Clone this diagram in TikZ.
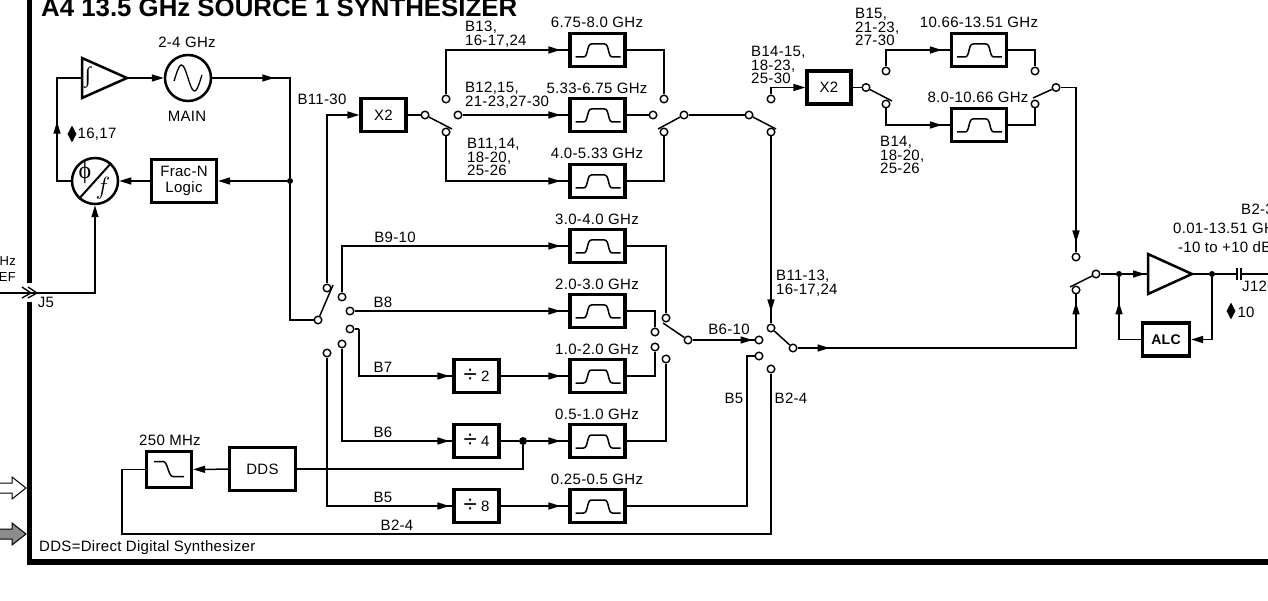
\documentclass[tikz,border=0pt]{standalone}
\usepackage{amsmath}
\usepackage{xcolor}
\usepackage{fontspec}
\setmainfont{Liberation Sans}[LetterSpace=2]
\newfontfamily\titlefont{Liberation Sans}
\newfontfamily\phifont{Liberation Serif}
\usepackage{tikz}
\usetikzlibrary{arrows.meta,calc,decorations.markings,shapes.geometric}

\begin{document}
\begin{tikzpicture}[x=1pt,y=-1pt,
    >={Triangle[length=12pt,width=7pt]},
    wire/.style={line width=1.5pt},
    tipat/.style={postaction={decorate,decoration={markings,mark=at position #1 with {\arrow{>}}}}},
    txt/.style={font=\fontsize{15}{13.5}\selectfont,inner sep=0pt,align=left},
    boxtxt/.style={draw,line width=3.2pt,inner sep=0pt,align=center,font=\fontsize{15}{16.5}\selectfont},
    contact/.style={circle,draw,fill=white,line width=1.4pt,minimum size=7.6pt,inner sep=0pt},
    junction/.style={circle,fill=black,minimum size=6pt,inner sep=0pt},
    bandpass/.style={draw,line width=3.2pt,minimum width=55pt,minimum height=33pt,inner sep=0pt,
        path picture={\draw[line width=1.5pt,shift={(path picture bounding box.center)}]
            (-22,7) -- (-14,7) .. controls (-9,7) and (-11,-6) .. (-6,-6) -- (7,-6)
            .. controls (12,-6) and (10,7) .. (15,7) -- (23,7);}},
    dividerbox/.style={boxtxt,minimum width=45pt,minimum height=33pt},
    ampline/.style={line width=2.5pt,line join=miter},
    roundel/.style={circle,draw,line width=2.5pt,minimum size=46pt,inner sep=0pt},
    gem/.style={diamond,fill=black,minimum width=9pt,minimum height=17pt,inner sep=0pt,aspect=0.5},
    frameline/.style={line width=5.5pt}]
    \useasboundingbox (0,0) rectangle (1268,601);

    % frame and title
    \draw[frameline] (29.5,0) -- (29.5,283);
    \draw[frameline] (29.5,302) -- (29.5,562) -- (1268,562);
    \node[font=\titlefont\bfseries\fontsize{25.8}{26}\selectfont,inner sep=0pt,anchor=base west] (title) at (41,17) {A4 13.5 GHz SOURCE 1 SYNTHESIZER};
    \node[txt,anchor=west] (ddsnote) at (39,548) {DDS=Direct Digital Synthesizer};

    % outside the frame on the left
    \node[txt,anchor=east,align=right,font=\fontsize{13}{16.5}\selectfont] (refname) at (16,269) {Hz\\EF};
    \draw[line width=1pt,fill=white] (0,483) -- (12,483) -- (12,477) -- (26,488) -- (12,499) -- (12,493) -- (0,493);
    \draw[line width=1pt,fill=black!45] (0,529) -- (12,529) -- (12,523) -- (26,534) -- (12,545) -- (12,539) -- (0,539);
    \coordinate (refin) at (0,293);
    \coordinate (jfive) at (37,293);
    \node[txt] (jfivename) at (46,302) {J5};

    % main loop
    \draw[ampline] (82,58) -- (127,78) -- (82,98) -- cycle;
    \coordinate (intgin) at (82,78);
    \coordinate (intgout) at (127,78);
    \node[font=\phifont\fontsize{22}{22}\selectfont,inner sep=0pt] (intsign) at (88,78) {∫};
    \node[roundel] (osc) at (188,78) {};
    \draw[line width=1.3pt,domain=-14:14,smooth,variable=\x,shift={(188,78)}] plot ({\x},{13*sin(\x*360/26)});
    \node[txt] (oscband) at (187,42) {2-4 GHz};
    \node[txt] (oscname) at (187,116) {MAIN};
    \node[roundel] (pd) at (95,181) {};
    \draw[line width=2pt] (pd.-132) -- (pd.48);
    \node[font=\phifont\fontsize{24}{24}\selectfont,inner sep=0pt] (phisign) at (85,173) {ϕ};
    \node[font=\fontsize{24}{24}\selectfont,inner sep=0pt] (efsign) at (103,188) {$f$};
    \node[boxtxt,minimum width=65pt,minimum height=43pt] (frac) at (184,181) {Frac-N\\Logic};
    \node[gem] (gemloop) at (72,134) {};
    \node[txt] (gemlooptxt) at (97,134) {16,17};
    \node[junction] (loopdot) at (290,181) {};
    \coordinate (intcorner) at (57,78);
    \draw[wire,tipat=73pt] (pd) -| (intcorner) -- (intgin);
    \draw[wire,->] (intgout) -- (osc);
    \draw[wire,tipat=62pt] (osc) -| (loopdot);
    \draw[wire,->] (loopdot) -- (frac);
    \draw[wire,->] (frac) -- (pd);
    \draw[wire,->] (refin) -- (jfive) -| (pd);
    \draw[line width=1.3pt] (22,287) -- (31,293) -- (22,298);
    \draw[line width=1.3pt] (28,287) -- (37,293) -- (28,298);

    % band switch
    \node[contact] (mw) at (318,320) {};
    \node[contact] (aone) at (327,288) {};
    \node[contact] (atwo) at (342,297) {};
    \node[contact] (athree) at (350,311) {};
    \node[contact] (afour) at (350,329) {};
    \node[contact] (afive) at (342,344) {};
    \node[contact] (asix) at (327,353) {};
    \coordinate (mwtip) at (333,285);
    \coordinate (afourbend) at (359,329);
    \draw[wire] (loopdot) |- (mw);
    \draw[wire] (mw) -- (mwtip);

    % upper bank
    \node[boxtxt,minimum width=45pt,minimum height=33pt] (xtwoa) at (383.5,115) {X2};
    \node[txt] (laone) at (322,99) {B11-30};
    \draw[wire,->] (aone) |- (xtwoa);
    \node[contact] (ub) at (425,115) {};
    \node[contact] (ubup) at (446,99) {};
    \node[contact] (ubmid) at (458,115) {};
    \node[contact] (ublow) at (446,132) {};
    \coordinate (ubtip) at (452,129);
    \draw[wire] (xtwoa) -- (ub);
    \draw[wire] (ub) -- (ubtip);
    \node[bandpass] (fa) at (597.5,50) {};
    \node[bandpass] (fb) at (597.5,115) {};
    \node[bandpass] (fc) at (597.5,181) {};
    \node[txt] (lfa) at (597,22) {6.75-8.0 GHz};
    \node[txt] (lfb) at (597,88) {5.33-6.75 GHz};
    \node[txt] (lfc) at (597,153) {4.0-5.33 GHz};
    \node[txt,anchor=west] (lba) at (465,34) {B13,\\16-17,24};
    \node[txt,anchor=west] (lbb) at (465,95) {B12,15,\\21-23,27-30};
    \node[txt,anchor=west] (lbc) at (467,157) {B11,14,\\18-20,\\25-26};
    \draw[wire,tipat=-8pt] (ubup) |- (fa);
    \draw[wire,tipat=-8pt] (ubmid) -- (fb);
    \draw[wire,tipat=-8pt] (ublow) |- (fc);
    \node[contact] (uoup) at (664,99) {};
    \node[contact] (uomid) at (653,115) {};
    \node[contact] (uolow) at (664,132) {};
    \node[contact] (uo) at (684,115) {};
    \node[contact] (xa) at (749,115) {};
    \node[contact] (xaup) at (771,99) {};
    \node[contact] (xalow) at (771,132) {};
    \coordinate (uotip) at (658,129);
    \coordinate (xatip) at (776,129);
    \draw[wire] (fa) -| (uoup);
    \draw[wire] (fb) -- (uomid);
    \draw[wire] (fc) -| (uolow);
    \draw[wire] (uo) -- (uotip);
    \draw[wire] (uo) -- (xa);
    \draw[wire] (xa) -- (xatip);

    % top right doubler
    \node[boxtxt,minimum width=44pt,minimum height=33pt] (xtwob) at (829,87.5) {X2};
    \node[txt,anchor=west] (lxa) at (751,65) {B14-15,\\18-23,\\25-30};
    \draw[wire,->] (xaup) |- (xtwob);
    \node[contact] (vb) at (866,87.5) {};
    \node[contact] (vbup) at (886,71) {};
    \node[contact] (vblow) at (886,104) {};
    \coordinate (vbtip) at (892,101);
    \draw[wire] (xtwob) -- (vb);
    \draw[wire] (vb) -- (vbtip);
    \node[bandpass] (fd) at (979,50) {};
    \node[bandpass] (fe) at (979,125) {};
    \node[txt] (lfd) at (979,22) {10.66-13.51 GHz};
    \node[txt] (lfe) at (978,97) {8.0-10.66 GHz};
    \node[txt,anchor=west] (lbd) at (855,27) {B15,\\21-23,\\27-30};
    \node[txt,anchor=west] (lbe) at (880,155) {B14,\\18-20,\\25-26};
    \draw[wire,tipat=-8pt] (vbup) |- (fd);
    \draw[wire,tipat=-8pt] (vblow) |- (fe);
    \node[contact] (voup) at (1035,71) {};
    \node[contact] (volow) at (1035,104) {};
    \node[contact] (vo) at (1056,87.5) {};
    \coordinate (votip) at (1033,98);
    \draw[wire] (fd) -| (voup);
    \draw[wire] (fe) -| (volow);
    \draw[wire] (vo) -- (votip);

    % lower bank
    \node[bandpass] (ff) at (597.5,246) {};
    \node[bandpass] (fg) at (597.5,311) {};
    \node[bandpass] (fh) at (597.5,376) {};
    \node[bandpass] (fi) at (597.5,441) {};
    \node[bandpass] (fj) at (597.5,506) {};
    \node[txt] (lff) at (597,219) {3.0-4.0 GHz};
    \node[txt] (lfg) at (597,284) {2.0-3.0 GHz};
    \node[txt] (lfh) at (597,349) {1.0-2.0 GHz};
    \node[txt] (lfi) at (597,414) {0.5-1.0 GHz};
    \node[txt] (lfj) at (597,479) {0.25-0.5 GHz};
    \node[dividerbox] (dtwo) at (476.5,376) {\raisebox{-1.5pt}{\fontsize{24}{20}\selectfont ÷} 2};
    \node[dividerbox] (dfour) at (476.5,441) {\raisebox{-1.5pt}{\fontsize{24}{20}\selectfont ÷} 4};
    \node[dividerbox] (deight) at (476.5,506) {\raisebox{-1.5pt}{\fontsize{24}{20}\selectfont ÷} 8};
    \node[txt] (lbnine) at (395,237) {B9-10};
    \node[txt] (lbeight) at (383,302) {B8};
    \node[txt] (lbseven) at (383,367) {B7};
    \node[txt] (lbsix) at (383,432) {B6};
    \node[txt] (lbfive) at (383,497) {B5};
    \node[txt] (lbtwo) at (397,525) {B2-4};
    \node[junction,minimum size=8pt] (fourdot) at (523,441) {};
    \draw[wire,tipat=-8pt] (atwo) |- (ff);
    \draw[wire,tipat=-8pt] (athree) -- (fg);
    \draw[wire] (afour) -- (afourbend);
    \draw[wire,tipat=-3pt] (afourbend) |- (dtwo);
    \draw[wire,tipat=-3pt] (afive) |- (dfour);
    \draw[wire,tipat=-3pt] (asix) |- (deight);
    \draw[wire,tipat=-8pt] (dtwo) -- (fh);
    \draw[wire] (dfour) -- (fourdot);
    \draw[wire,tipat=-8pt] (fourdot) -- (fi);
    \draw[wire,tipat=-8pt] (deight) -- (fj);

    % DDS path
    \node[boxtxt,minimum width=66pt,minimum height=43pt] (dds) at (262.5,469) {DDS};
    \node[draw,line width=3.2pt,minimum width=45pt,minimum height=36pt,inner sep=0pt,
        path picture={\draw[line width=1.5pt,shift={(path picture bounding box.center)}]
            (-15,-8) -- (-6,-8) .. controls (-1,-8) and (-1,7) .. (4,7) -- (15,7);}] (lpf) at (169,469.5) {};
    \node[txt] (lpfband) at (170,440) {250 MHz};
    \coordinate (ddsfeed) at (122,534);
    \draw[wire,->] (dds) -- (lpf);
    \draw[wire] (dds) -| (fourdot);

    % switch into the output
    \node[contact] (la) at (666,318) {};
    \node[contact] (lb) at (655,332) {};
    \node[contact] (lc) at (655,347) {};
    \node[contact] (ld) at (666,359) {};
    \node[contact] (lo) at (688,340) {};
    \coordinate (lotip) at (663,323);
    \draw[wire] (ff) -| (la);
    \draw[wire] (fg) -| (lb);
    \draw[wire] (fh) -| (lc);
    \draw[wire] (fi) -| (ld);
    \draw[wire] (lo) -- (lotip);
    \node[contact] (sa) at (759,340) {};
    \node[contact] (sb) at (759,356) {};
    \node[contact] (sc) at (771,369) {};
    \node[contact] (sin) at (771,328) {};
    \node[contact] (so) at (793,348) {};
    \coordinate (sbbend) at (747,356);
    \node[txt] (lsa) at (729,329) {B6-10};
    \node[txt] (lsb) at (734,398) {B5};
    \node[txt] (lsc) at (791,398) {B2-4};
    \node[txt,anchor=west] (lsd) at (776,283) {B11-13,\\16-17,24};
    \draw[wire,tipat=-2pt] (lo) -- (sa);
    \draw[wire] (sb) -- (sbbend) |- (fj);
    \draw[wire] (lpf) -| (ddsfeed) -| (sc);
    \draw[wire,tipat=-12pt] (xalow) -- (sin);
    \draw[wire] (sin) -- (so);

    % output stage
    \node[contact] (ka) at (1076,257) {};
    \node[contact] (kb) at (1076,290) {};
    \node[contact] (ko) at (1096,274) {};
    \coordinate (kotip) at (1070,287);
    \draw[wire] (ko) -- (kotip);
    \draw[wire,tipat=-10pt] (vo) -| (ka);
    \draw[wire,tipat=32pt,tipat=-8pt] (so) -| (kb);
    \draw[ampline] (1148,254) -- (1192,274) -- (1148,294) -- cycle;
    \coordinate (ampin) at (1148,274);
    \coordinate (ampout) at (1192,274);
    \node[boxtxt,minimum width=47pt,minimum height=33pt,font=\bfseries\fontsize{14}{16}\selectfont] (alc) at (1166,339.5) {ALC};
    \node[junction] (inamp) at (1119,274) {};
    \node[junction] (outamp) at (1212,274) {};
    \coordinate (capa) at (1237,274);
    \coordinate (capb) at (1241,274);
    \coordinate (outend) at (1268,274);
    \draw[wire] (ko) -- (inamp);
    \draw[wire,tipat=-3pt] (inamp) -- (ampin);
    \draw[wire] (ampout) -- (outamp);
    \draw[wire] (outamp) -- (capa);
    \draw[line width=1.5pt] (1237,268) -- (1237,280);
    \draw[line width=1.5pt] (1241,268) -- (1241,280);
    \draw[wire] (capb) -- (outend);
    \draw[wire,->] (outamp) |- (alc);
    \draw[wire,tipat=59pt] (alc) -| (inamp);
    \node[gem] (gemout) at (1231,311) {};
    \node[txt] (gemouttxt) at (1246,312) {10};
    \node[txt,anchor=west] (lpa) at (1241,209) {B2-3};
    \node[txt,anchor=west] (lpb) at (1173,228) {0.01-13.51 GH};
    \node[txt,anchor=west] (lpc) at (1178,247) {-10 to +10 dB};
    \node[txt,anchor=west] (lpd) at (1242,286) {J120};
\end{tikzpicture}
\end{document}
